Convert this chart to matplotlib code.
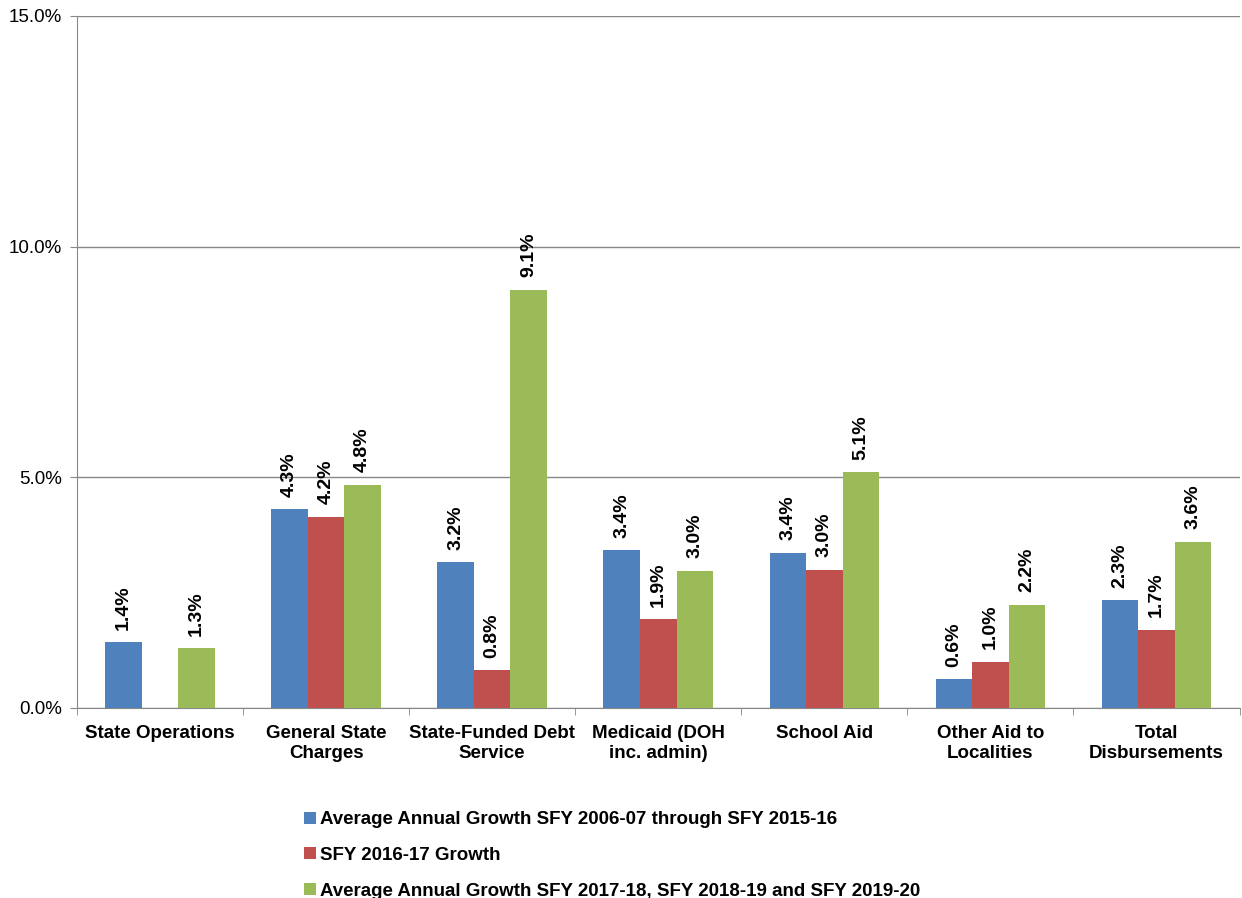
import numpy as np
import matplotlib
matplotlib.use("Agg")
import matplotlib.pyplot as plt

plt.rcParams['font.family'] = ['Liberation Sans', 'DejaVu Sans']

categories = ["State Operations", "General State\nCharges", "State-Funded Debt\nService",
              "Medicaid (DOH\ninc. admin)", "School Aid", "Other Aid to\nLocalities",
              "Total\nDisbursements"]
series_names = ["Average Annual Growth SFY 2006-07 through SFY 2015-16",
                "SFY 2016-17 Growth",
                "Average Annual Growth SFY 2017-18, SFY 2018-19 and SFY 2019-20"]
avg_past = [1.43, 4.31, 3.16, 3.42, 3.37, 0.62, 2.34]
growth_1617 = [0.0, 4.15, 0.82, 1.92, 3.0, 1.0, 1.7]
avg_future = [1.29, 4.84, 9.07, 2.98, 5.11, 2.24, 3.6]
# the State Operations red bar has no data label
show_label = [[True] * 7, [False, True, True, True, True, True, True], [True] * 7]
colors = ["#4F81BD", "#C0504D", "#9BBB59"]

fig = plt.figure(figsize=(12.42, 8.98), dpi=100)
ax = fig.add_axes([0.062, 0.2116, 0.936, 0.7706])

x = np.arange(len(categories))
w = 0.22
all_series = [avg_past, growth_1617, avg_future]
for i, vals in enumerate(all_series):
    pos = x + (i - 1) * w
    bars = ax.bar(pos, vals, w, color=colors[i], label=series_names[i], zorder=3)
    for j, b in enumerate(bars):
        if show_label[i][j]:
            ax.annotate("%.1f%%" % vals[j], (b.get_x() + b.get_width() / 2, vals[j]),
                        xytext=(0, 9), textcoords="offset points", rotation=90,
                        ha="center", va="bottom", fontsize=14, fontweight="bold")

ax.set_ylim(0, 15)
ax.set_yticks([0, 5, 10, 15])
ax.set_yticklabels(["0.0%", "5.0%", "10.0%", "15.0%"], fontsize=13.5)
ax.set_xlim(-0.5, len(categories) - 0.5)
ax.set_xticks(x)
ax.set_xticklabels(categories, fontsize=13.5, fontweight="bold", linespacing=1.25)
ax.tick_params(axis="x", length=0, pad=12)
ax.set_xticks(np.arange(len(categories) + 1) - 0.5, minor=True)
ax.tick_params(axis="x", which="minor", length=5, color="#888888")
ax.tick_params(axis="y", length=5, color="#888888", pad=6)
ax.grid(axis="y", color="#888888", linewidth=1, zorder=0)
for s in ["top", "right"]:
    ax.spines[s].set_visible(False)
for s in ["left", "bottom"]:
    ax.spines[s].set_color("#888888")

leg = fig.legend(loc="upper left", bbox_to_anchor=(0.239, 0.105), frameon=False,
                 prop={"size": 13.5, "weight": "bold"}, handlelength=0.6, handleheight=0.6,
                 handletextpad=0.25, labelspacing=1.0, borderaxespad=0)

fig.savefig("out.png", dpi=100)
